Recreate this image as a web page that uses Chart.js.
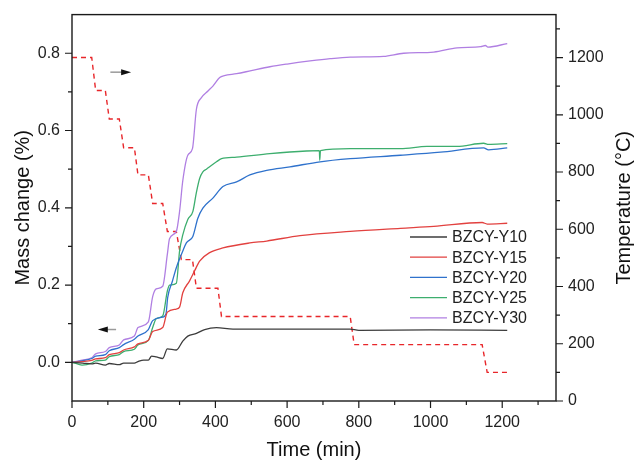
<!DOCTYPE html>
<html>
<head>
<meta charset="utf-8">
<script src="https://cdn.jsdelivr.net/npm/chart.js@4.4.1/dist/chart.umd.min.js"></script>
<style>
  html, body { margin: 0; padding: 0; background: #fff; }
</style>
</head>
<body>
<canvas id="tga" width="637" height="465"></canvas>
<script>
// series names and [time (min), mass change (%)] pairs
const seriesNames = ['BZCY-Y10', 'BZCY-Y15', 'BZCY-Y20', 'BZCY-Y25', 'BZCY-Y30'];

const y10 = [[0,0],[30,-0.002],[55,-0.004],[66,-0.002],[93,-0.007],[104,-0.003],[132,-0.006],[144,-0.002],
  [174,-0.002],[184,0.002],[200,0.006],[213,0.006],[222,0.016],[235,0.014],[253,0.01],[266,0.035],[291,0.032],
  [309,0.055],[323,0.068],[347,0.075],[370,0.085],[403,0.09],[449,0.086],[550,0.086],[700,0.086],[776,0.086],
  [800,0.083],[1000,0.084],[1214,0.083]];

const y15 = [[0,0],[28,0.002],[55,0.005],[66,0.009],[93,0.012],[104,0.02],[132,0.025],[144,0.032],[174,0.04],
  [184,0.048],[213,0.057],[225,0.08],[253,0.09],[266,0.13],[291,0.138],[300,0.143],[309,0.18],[328,0.211],
  [342,0.237],[356,0.262],[384,0.284],[421,0.296],[496,0.309],[543,0.314],[636,0.328],[776,0.339],[916,0.347],
  [1009,0.352],[1144,0.362],[1158,0.358],[1214,0.36]];

const y20 = [[0,0],[28,0.004],[55,0.01],[66,0.016],[93,0.02],[104,0.03],[132,0.038],[144,0.046],[174,0.06],
  [184,0.068],[213,0.085],[225,0.108],[253,0.117],[262,0.125],[267,0.168],[280,0.21],[291,0.245],[309,0.288],
  [319,0.309],[337,0.326],[351,0.373],[365,0.399],[393,0.425],[421,0.455],[459,0.467],[496,0.485],[543,0.497],
  [608,0.506],[692,0.519],[776,0.527],[916,0.536],[1028,0.544],[1148,0.555],[1162,0.55],[1214,0.555]];

const y25 = [[0,0],[15,-0.004],[28,-0.007],[55,-0.002],[66,0.004],[93,0.006],[104,0.015],[132,0.02],[144,0.028],
  [174,0.034],[184,0.045],[213,0.057],[225,0.09],[235,0.113],[253,0.12],[266,0.185],[272,0.2],[291,0.205],
  [300,0.288],[309,0.33],[323,0.37],[337,0.39],[347,0.44],[356,0.476],[365,0.493],[375,0.5],[403,0.519],
  [417,0.527],[459,0.531],[552,0.54],[654,0.547],[690,0.548],[691,0.523],[693,0.548],[776,0.553],[916,0.553],
  [990,0.559],[1074,0.559],[1148,0.567],[1162,0.564],[1214,0.566]];

const y30 = [[0,0],[28,0.006],[55,0.012],[66,0.022],[93,0.028],[104,0.038],[132,0.045],[144,0.058],[174,0.068],
  [184,0.09],[213,0.105],[225,0.17],[235,0.19],[253,0.197],[266,0.28],[272,0.32],[291,0.339],[300,0.39],
  [309,0.47],[323,0.536],[336,0.553],[347,0.655],[361,0.685],[380,0.703],[393,0.715],[412,0.737],[425,0.742],
  [459,0.747],[500,0.755],[552,0.765],[600,0.772],[664,0.78],[720,0.786],[776,0.79],[869,0.792],[925,0.8],
  [1009,0.803],[1074,0.814],[1140,0.817],[1153,0.82],[1160,0.816],[1214,0.825]];

// furnace temperature programme, [time (min), temperature (°C)]
const temperature = [[0,1200],[55,1200],[66,1085],[93,1085],[104,985],[132,985],[144,885],[174,885],[184,790],
  [213,790],[225,690],[253,690],[266,592],[291,592],[305,494],[336,494],[347,394],[407,394],[417,295],[776,295],
  [787,197],[1144,197],[1158,100],[1216,100]];

const timeMajor = [0, 200, 400, 600, 800, 1000, 1200];
const massMajor = [0, 0.2, 0.4, 0.6, 0.8];
const tempMajor = [0, 200, 400, 600, 800, 1000, 1200];

const lineColors = ['#3c3c3c', '#e2413f', '#2f72cc', '#3dae6e', '#b07fe2'];
const FONT = "'Liberation Sans', Arial, sans-serif";

const toXY = arr => arr.map(p => ({ x: p[0], y: p[1] }));

const frameTicks = {
  id: 'frameTicks',
  afterDatasetsDraw(chart) {
    const { ctx, chartArea: a, scales } = chart;
    ctx.save();
    ctx.strokeStyle = '#1a1a1a';
    ctx.lineWidth = 1.4;
    ctx.strokeRect(a.left, a.top, a.right - a.left, a.bottom - a.top);
    ctx.lineWidth = 1.2;
    ctx.beginPath();
    scales.x.ticks.forEach(t => {
      const px = scales.x.getPixelForValue(t.value);
      const len = t.label !== '' ? 7 : 4;
      ctx.moveTo(px, a.bottom); ctx.lineTo(px, a.bottom + len);
    });
    scales.y.ticks.forEach(t => {
      const py = scales.y.getPixelForValue(t.value);
      if (py < a.top + 1 || py > a.bottom - 1) return;
      const len = t.label !== '' ? 7 : 4;
      ctx.moveTo(a.left, py); ctx.lineTo(a.left - len, py);
    });
    scales.y1.ticks.forEach(t => {
      const py = scales.y1.getPixelForValue(t.value);
      if (py < a.top + 1) return;
      const len = t.label !== '' ? 7 : 4;
      ctx.moveTo(a.right, py); ctx.lineTo(a.right + len, py);
    });
    ctx.stroke();

    // right axis title, read bottom-to-top like the left one
    ctx.translate(624, (a.top + a.bottom) / 2);
    ctx.rotate(-Math.PI / 2);
    ctx.font = '20px ' + FONT;
    ctx.fillStyle = '#111';
    ctx.textAlign = 'center';
    ctx.textBaseline = 'middle';
    ctx.fillText('Temperature (°C)', 0, 0);
    ctx.restore();
  }
};

const insideLegend = {
  id: 'insideLegend',
  afterDraw(chart) {
    const { ctx } = chart;
    ctx.save();
    ctx.font = '16px ' + FONT;
    ctx.textBaseline = 'middle';
    ctx.fillStyle = '#222';
    seriesNames.forEach((name, i) => {
      const y = 237 + i * 20.2;
      ctx.strokeStyle = lineColors[i];
      ctx.lineWidth = 1.3;
      ctx.beginPath();
      ctx.moveTo(410, y); ctx.lineTo(447, y);
      ctx.stroke();
      ctx.fillText(name, 452, y + 1);
    });
    ctx.restore();
  }
};

const axisArrows = {
  id: 'axisArrows',
  afterDraw(chart) {
    const { ctx, scales } = chart;
    const drawArrow = (t0, t1, m) => {
      const x0 = scales.x.getPixelForValue(t0);
      const x1 = scales.x.getPixelForValue(t1);
      const y = scales.y.getPixelForValue(m);
      const dir = Math.sign(x1 - x0);
      ctx.strokeStyle = '#9a9a9a';
      ctx.lineWidth = 1.5;
      ctx.beginPath();
      ctx.moveTo(x0, y); ctx.lineTo(x1 - dir * 8, y);
      ctx.stroke();
      ctx.fillStyle = '#111';
      ctx.beginPath();
      ctx.moveTo(x1, y);
      ctx.lineTo(x1 - dir * 10, y - 3);
      ctx.lineTo(x1 - dir * 10, y + 3);
      ctx.closePath();
      ctx.fill();
    };
    ctx.save();
    drawArrow(107, 165, 0.751);
    drawArrow(123, 72, 0.085);
    ctx.restore();
  }
};

const massSets = [y10, y15, y20, y25, y30].map((d, i) => ({
  label: seriesNames[i],
  data: toXY(d),
  yAxisID: 'y',
  borderColor: lineColors[i],
  borderWidth: 1.3,
  pointRadius: 0,
  cubicInterpolationMode: 'monotone',
  fill: false
}));

const ctx = document.getElementById('tga').getContext('2d');
const tgaChart = new Chart(ctx, {
  type: 'line',
  data: {
    datasets: massSets.concat([{
      label: 'Temperature',
      data: toXY(temperature),
      yAxisID: 'y1',
      borderColor: '#e8262a',
      borderWidth: 1.4,
      borderDash: [5, 4],
      pointRadius: 0,
      tension: 0,
      fill: false
    }])
  },
  options: {
    responsive: false,
    devicePixelRatio: 1,
    animation: false,
    layout: { padding: { top: 12, left: 0, right: 0, bottom: 0 } },
    scales: {
      x: {
        type: 'linear',
        position: 'bottom',
        min: 0,
        max: 1350,
        grid: { display: false, tickLength: 7 },
        border: { display: false },
        ticks: {
          stepSize: 100,
          includeBounds: false,
          autoSkip: false,
          maxRotation: 0,
          padding: 5,
          color: '#222',
          font: { family: FONT, size: 16 },
          callback: v => timeMajor.includes(v) ? String(v) : ''
        },
        title: {
          display: true,
          text: 'Time (min)',
          color: '#111',
          font: { family: FONT, size: 20 },
          padding: { top: 0, bottom: 3 }
        },
        afterFit: s => { s.height = 64; }
      },
      y: {
        type: 'linear',
        position: 'left',
        min: -0.1,
        max: 0.9,
        grid: { display: false, tickLength: 7 },
        border: { display: false },
        ticks: {
          stepSize: 0.1,
          includeBounds: false,
          autoSkip: false,
          padding: 5,
          color: '#222',
          font: { family: FONT, size: 16 },
          callback: v => {
            const r = Math.round(v * 10) / 10;
            return massMajor.includes(r) ? r.toFixed(1) : '';
          }
        },
        title: {
          display: true,
          text: 'Mass change (%)',
          color: '#111',
          font: { family: FONT, size: 20 },
          padding: { top: 11, bottom: 0 }
        },
        afterFit: s => { s.width = 72; }
      },
      y1: {
        type: 'linear',
        position: 'right',
        min: 0,
        max: 1350,
        grid: { display: false, tickLength: 7 },
        border: { display: false },
        ticks: {
          stepSize: 100,
          includeBounds: false,
          autoSkip: false,
          padding: 5,
          color: '#222',
          font: { family: FONT, size: 16 },
          callback: v => tempMajor.includes(v) ? String(v) : ''
        },
        title: { display: false },
        afterFit: s => { s.width = 81; }
      }
    },
    plugins: {
      legend: { display: false },
      tooltip: { enabled: false }
    }
  },
  plugins: [frameTicks, insideLegend, axisArrows]
});
</script>
</body>
</html>
